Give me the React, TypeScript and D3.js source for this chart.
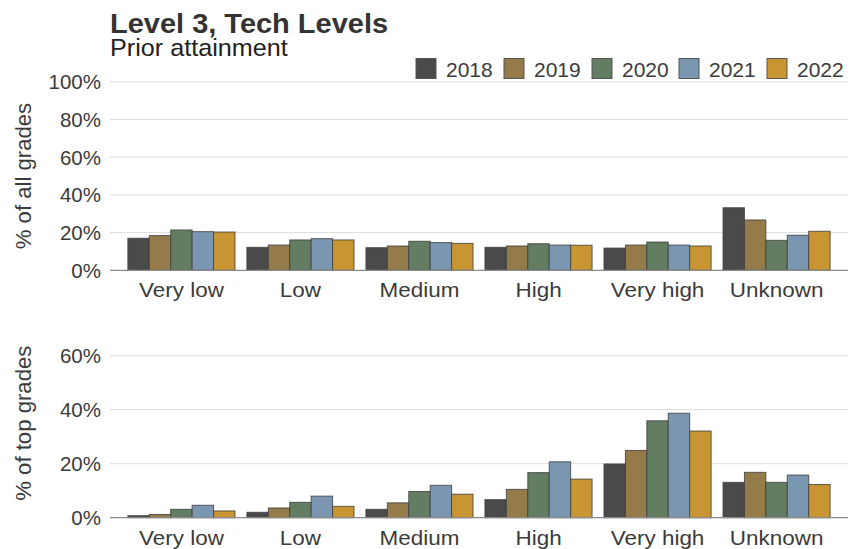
import React from "react";
import * as d3 from "d3";

const categories = ["Very low", "Low", "Medium", "High", "Very high", "Unknown"];
const years = ["2018", "2019", "2020", "2021", "2022"];
const colors = ["#4a4a4a", "#957b4a", "#627d61", "#7b96b1", "#c99532"];

// % of all grades, by year (rows) and category (columns)
const allGrades2018 = [17.0, 12.2, 12.0, 12.2, 11.8, 33.2];
const allGrades2019 = [18.4, 13.4, 12.9, 12.9, 13.4, 26.7];
const allGrades2020 = [21.4, 16.1, 15.4, 14.1, 15.0, 15.9];
const allGrades2021 = [20.5, 16.8, 14.7, 13.4, 13.4, 18.6];
const allGrades2022 = [20.3, 16.1, 14.3, 13.3, 12.9, 20.7];

// % of top grades
const topGrades2018 = [0.75, 2.0, 3.1, 6.7, 19.9, 13.1];
const topGrades2019 = [1.2, 3.6, 5.5, 10.5, 24.9, 16.8];
const topGrades2020 = [3.1, 5.7, 9.7, 16.7, 35.9, 13.1];
const topGrades2021 = [4.6, 8.0, 12.0, 20.7, 38.7, 15.8];
const topGrades2022 = [2.5, 4.2, 8.7, 14.3, 32.1, 12.3];

const allTicks = [0, 20, 40, 60, 80, 100];
const topTicks = [0, 20, 40, 60];

const allSeries = [allGrades2018, allGrades2019, allGrades2020, allGrades2021, allGrades2022];
const topSeries = [topGrades2018, topGrades2019, topGrades2020, topGrades2021, topGrades2022];

const FONT = "'Liberation Sans', Arial, sans-serif";
const TEXT = "#3b3b3b";

const X0 = 110;
const X1 = 848;

function Panel({ series, ticks, yMax, yTop, yBottom, title }: any) {
  const x = d3.scaleBand<string>().domain(categories).range([X0, X1]).paddingInner(0.1).paddingOuter(0.15);
  const xi = d3.scaleBand<string>().domain(years).range([0, x.bandwidth()]).padding(0);
  const y = d3.scaleLinear().domain([0, yMax]).range([yBottom, yTop]);
  const mid = (yTop + yBottom) / 2;
  return (
    <g>
      {ticks.map((t: number) => (
        <g key={t}>
          {t !== 0 && <line x1={X0} x2={X1} y1={y(t)} y2={y(t)} stroke="#dcdcdc" strokeWidth={1} />}
          <text x={X0 - 9} y={y(t)} dy="0.36em" textAnchor="end" fontSize={20.5} fill={TEXT} fontFamily={FONT}>
            {t}%
          </text>
        </g>
      ))}
      {years.map((yr, j) =>
        categories.map((c, i) => {
          const v = series[j][i];
          const bx = (x(c) as number) + (xi(yr) as number);
          return (
            <rect
              key={yr + c}
              x={bx}
              y={y(v)}
              width={xi.bandwidth()}
              height={y(0) - y(v)}
              fill={colors[j]}
              stroke="#3c3c3c"
              strokeOpacity={0.8}
              strokeWidth={1}
            />
          );
        })
      )}
      <line x1={X0} x2={X1} y1={y(0)} y2={y(0)} stroke="#8a8a8a" strokeWidth={1.2} />
      {categories.map((c) => (
        <text
          key={c}
          transform={`translate(${(x(c) as number) + x.bandwidth() / 2},${y(0) + 27}) scale(1.07,1)`}
          textAnchor="middle"
          fontSize={21}
          fill={TEXT}
          fontFamily={FONT}
        >
          {c}
        </text>
      ))}
      <text
        transform={`translate(${31},${mid}) rotate(-90) scale(1.03,1)`}
        textAnchor="middle"
        fontSize={21.5}
        fill={TEXT}
        fontFamily={FONT}
      >
        {title}
      </text>
    </g>
  );
}

export default function App() {
  const legendX = [416, 504, 592, 679, 767];
  return (
    <svg width={850} height={549} style={{ position: "absolute", left: 0, top: 0, background: "#fff" }}>
      <rect x={0} y={0} width={850} height={549} fill="#fff" />
      <text transform="translate(110,33) scale(1.035,1)" fontSize={28} fontWeight="bold" fill="#333" fontFamily={FONT}>
        Level 3, Tech Levels
      </text>
      <text transform="translate(110,56) scale(1.05,1)" fontSize={24} fill="#222" fontFamily={FONT}>
        Prior attainment
      </text>
      {years.map((yr, j) => (
        <g key={yr}>
          <rect x={legendX[j]} y={58.5} width={20} height={20} fill={colors[j]} stroke="#555" strokeWidth={1} />
          <text x={legendX[j] + 30} y={77} fontSize={21} fill={TEXT} fontFamily={FONT}>
            {yr}
          </text>
        </g>
      ))}
      <Panel series={allSeries} ticks={allTicks} yMax={100} yTop={81.8} yBottom={270.3} title="% of all grades" />
      <Panel series={topSeries} ticks={topTicks} yMax={70} yTop={328.7} yBottom={517.7} title="% of top grades" />
    </svg>
  );
}
